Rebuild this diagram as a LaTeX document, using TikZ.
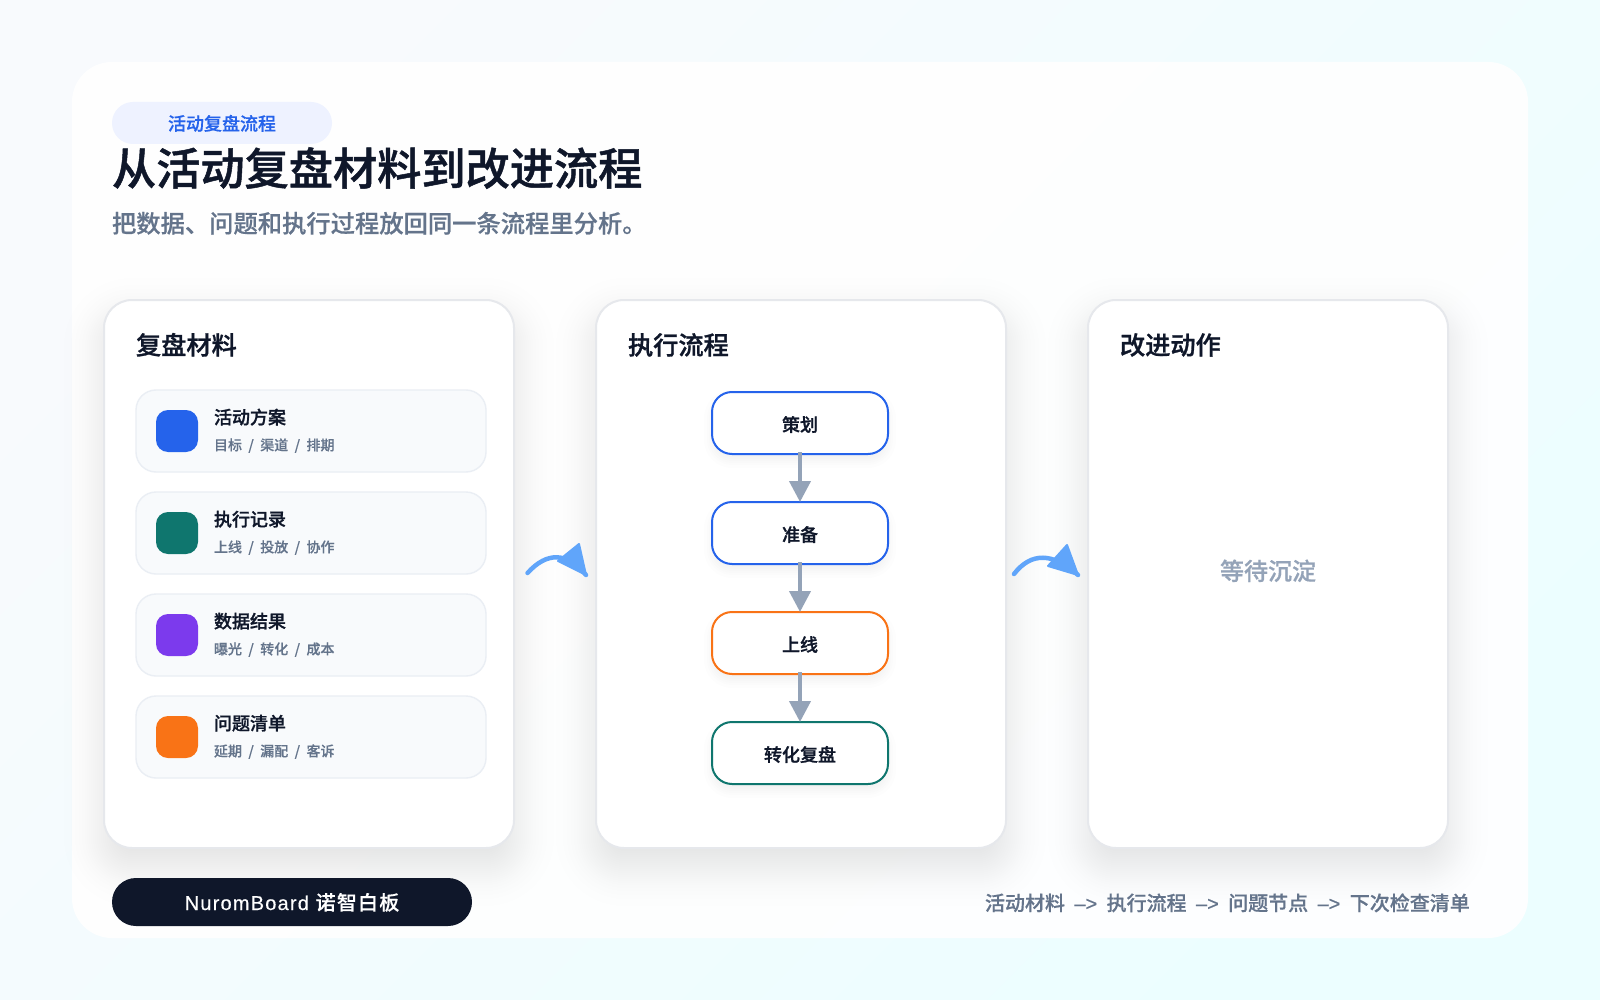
\documentclass[tikz,border=0pt]{standalone}
\usepackage{fontspec}
\setmainfont[Ligatures=TeX]{Noto Sans CJK SC}
\newfontfamily\medf[Ligatures=TeX,FakeBold=.5]{Noto Sans CJK SC Medium}
\newfontfamily\lightf[Ligatures=TeX,FakeBold=.25]{Noto Sans CJK SC Medium}
\newfontfamily\semif[Ligatures=TeX,FakeBold=1.1]{Noto Sans CJK SC Medium}
\newfontfamily\arrowf[Ligatures=TeX,FakeBold=.6]{Liberation Sans}
\newfontfamily\brandf[LetterSpace=6,FakeBold=.4]{Liberation Sans}
\newfontfamily\brandc[LetterSpace=6,FakeBold=.4]{Noto Sans CJK SC Medium}
\usetikzlibrary{arrows.meta}
\definecolor{ink}{HTML}{0F172A}
\definecolor{slatetxt}{HTML}{64748B}
\definecolor{slatearrow}{HTML}{94A3B8}
\definecolor{panelline}{HTML}{E6E8EC}
\definecolor{itemfill}{HTML}{F8FAFC}
\definecolor{itemline}{HTML}{EAEEF4}
\definecolor{cblue}{HTML}{2563EB}
\definecolor{cteal}{HTML}{0F766E}
\definecolor{cviolet}{HTML}{7C3AED}
\definecolor{corange}{HTML}{F97316}
\definecolor{curve}{HTML}{60A5FA}
\definecolor{bgA}{HTML}{F8FAFD}
\definecolor{bgM}{HTML}{F6FBFD}
\definecolor{bgB}{HTML}{ECFEFF}
\definecolor{pillfill}{HTML}{EEF2FF}
\newcommand{\fs}[1]{\fontsize{#1}{#1}\selectfont}
\newcommand{\sep}{\hspace{6.4pt}/\hspace{6.4pt}}
\newcommand{\arw}{\hspace{9.4pt}{\arrowf -->}\hspace{9.4pt}}
\newcommand{\bigshadow}[4]{%
  \foreach \e/\rr in {40/68,33/61,29/57,25/53,22/50,19/47,17/45,15/43,13/41,11/39,9/37,7/35,5/33,3/31,1/29,-1/27,-3/25,-5/23,-7/21,-9/19,-11/17,-13/15,-15/13,-17/11,-19/9,-22/6,-25/3,-29/1,-33/1,-40/1}{%
    \fill[ink,fill opacity=.0046,rounded corners=\rr pt]
      ({#1-\e},{#2-\e+18}) rectangle ({#3+\e},{#4+\e+18});}}
\newcommand{\smallshadow}[4]{%
  \foreach \e/\rr in {8/28,5/25,3/23,1/21,-1/19,-3/17,-5/15,-8/12}{%
    \fill[ink,fill opacity=.009,rounded corners=\rr pt]
      ({#1-\e},{#2-\e+6}) rectangle ({#3+\e},{#4+\e+6});}}
\tikzset{
  panel/.style={draw=panelline,line width=2pt,fill=white,rounded corners=28pt,inner sep=0pt,outer sep=0pt},
  itembox/.style={draw=itemline,line width=1.4pt,fill=itemfill,rounded corners=20pt,inner sep=0pt,outer sep=0pt,minimum width=350pt,minimum height=82pt},
  iconbox/.style={rounded corners=12pt,inner sep=0pt,outer sep=0pt,minimum width=42pt,minimum height=42pt},
  flowbox/.style={draw=#1,line width=2pt,fill=white,rounded corners=20pt,inner sep=0pt,outer sep=0pt,minimum width=176pt,minimum height=62pt,text=ink,font=\fs{18}\semif,text height=16.8pt,text depth=0pt},
  flowarrow/.style={draw=slatearrow,line width=4pt,shorten <=-2pt,-{Triangle[length=21pt,width=21pt]}},
  curvearrow/.style={draw=curve,line width=4.5pt,line cap=round},
  curvehead/.style={fill=curve,draw=curve,line width=2pt,line join=round},
  txt/.style={anchor=base west,inner sep=0pt,outer sep=0pt},
  paneltitle/.style={txt,text=ink,font=\fs{25.2}\semif},
  itemtitle/.style={txt,text=ink,font=\fs{18}\semif},
  itemsub/.style={txt,text=slatetxt,font=\fs{14}\lightf},
}
\begin{document}
\begin{tikzpicture}[x=1pt,y=-1pt]
\useasboundingbox (0,0) rectangle (1600,1000);
\clip (0,0) rectangle (1600,1000);
\shade[top color=bgA,middle color=bgM,bottom color=bgB,shading angle=45] (0,0) rectangle (1600,1000);
\fill[white,fill opacity=.92,rounded corners=40pt] (72,62) rectangle (1528,938);

% shadows
\bigshadow{104}{300}{514}{848}
\bigshadow{596}{300}{1006}{848}
\bigshadow{1088}{300}{1448}{848}

% header
\node[fill=pillfill,rounded corners=21pt,inner sep=0pt,outer sep=0pt,minimum width=220pt,minimum height=42pt] (tagpill) at (222,123) {};
\node[anchor=base,inner sep=0pt,text=cblue,font=\fs{18}\medf] (tagtext) at (222,130.3) {活动复盘流程};
\node[txt,text=ink,font=\fs{44.2}\semif] (title) at (112,185) {从活动复盘材料到改进流程};
\node[txt,text=slatetxt,font=\fs{24.3}\medf] (subtitle) at (112,232.5) {把数据、问题和执行过程放回同一条流程里分析。};

% panels
\node[panel,minimum width=410pt,minimum height=548pt] (panelA) at (309,574) {};
\node[panel,minimum width=410pt,minimum height=548pt] (panelB) at (801,574) {};
\node[panel,minimum width=360pt,minimum height=548pt] (panelC) at (1268,574) {};
\node[paneltitle] (titleA) at (136,354.5) {复盘材料};
\node[paneltitle] (titleB) at (628,354.5) {执行流程};
\node[paneltitle] (titleC) at (1120,354.5) {改进动作};

% items
\node[itembox] (item1) at (311,431) {};
\node[itembox] (item2) at (311,533) {};
\node[itembox] (item3) at (311,635) {};
\node[itembox] (item4) at (311,737) {};
\node[iconbox,fill=cblue] (icon1) at (177,431) {};
\node[iconbox,fill=cteal] (icon2) at (177,533) {};
\node[iconbox,fill=cviolet] (icon3) at (177,635) {};
\node[iconbox,fill=corange] (icon4) at (177,737) {};
\node[itemtitle] (it1) at (214,424) {活动方案};
\node[itemtitle] (it2) at (214,526) {执行记录};
\node[itemtitle] (it3) at (214,628) {数据结果};
\node[itemtitle] (it4) at (214,730) {问题清单};
\node[itemsub] (is1) at (214,450.3) {目标\sep 渠道\sep 排期};
\node[itemsub] (is2) at (214,552.3) {上线\sep 投放\sep 协作};
\node[itemsub] (is3) at (214,654.3) {曝光\sep 转化\sep 成本};
\node[itemsub] (is4) at (214,756.3) {延期\sep 漏配\sep 客诉};

% flow
\smallshadow{712}{392}{888}{454}
\smallshadow{712}{502}{888}{564}
\smallshadow{712}{612}{888}{674}
\smallshadow{712}{722}{888}{784}
\node[flowbox=cblue] (f1) at (800,423) {策划};
\node[flowbox=cblue] (f2) at (800,533) {准备};
\node[flowbox=corange] (f3) at (800,643) {上线};
\node[flowbox=cteal] (f4) at (800,753) {转化复盘};
\draw[flowarrow] (f1.south) -- (f2.north);
\draw[flowarrow] (f2.south) -- (f3.north);
\draw[flowarrow] (f3.south) -- (f4.north);

% curved arrows between panels
\coordinate (c1s) at (527.5,573);
\coordinate (c1e) at (586,575);
\draw[curvearrow] (c1s) .. controls (547,551.5) and (567,552) .. (c1e);
\fill[curvehead] (c1e) -- (579,544) -- (558,561) -- cycle;
\coordinate (c2s) at (1014,574);
\coordinate (c2e) at (1078,575);
\draw[curvearrow] (c2s) .. controls (1031,552) and (1053,552.3) .. (c2e);
\fill[curvehead] (c2e) -- (1067,545) -- (1048,566) -- cycle;

\node[anchor=base,inner sep=0pt,text=slatearrow,font=\fs{24}\medf] (waiting) at (1268,580) {等待沉淀};

% footer
\node[fill=ink,rounded corners=24pt,inner sep=0pt,outer sep=0pt,minimum width=360pt,minimum height=48pt] (brandpill) at (292,902) {};
\node[anchor=base,inner sep=0pt,text=white,font=\fs{20}] (brandtext) at (292,910) {{\brandf NuromBoard }{\brandc 诺智白板}};
\node[anchor=base east,inner sep=0pt,text=slatetxt,font=\fs{20}\medf] (flowtext) at (1470,910.5) {活动材料\arw 执行流程\arw 问题节点\arw 下次检查清单};
\end{tikzpicture}
\end{document}
